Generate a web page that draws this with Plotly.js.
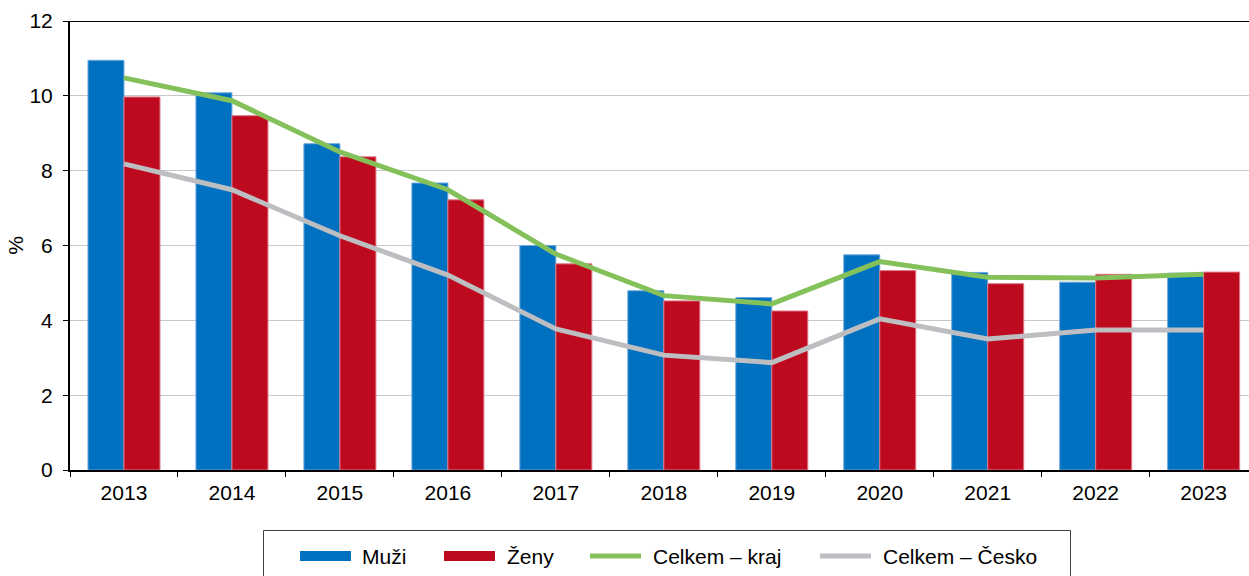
<!DOCTYPE html>
<html>
<head>
<meta charset="utf-8">
<script src="https://cdn.plot.ly/plotly-3.0.1.min.js"></script>
<style>html,body{margin:0;padding:0;background:#fff;}#chart{width:1249px;height:576px;}</style>
</head>
<body>
<div id="chart"></div>
<script>
var years = ['2013','2014','2015','2016','2017','2018','2019','2020','2021','2022','2023'];
var muzi  = [10.95, 10.08, 8.72, 7.67, 6.00, 4.79, 4.61, 5.75, 5.28, 5.02, 5.26];
var zeny  = [9.97, 9.47, 8.37, 7.22, 5.51, 4.52, 4.25, 5.33, 4.98, 5.23, 5.29];
var kraj  = [10.48, 9.87, 8.50, 7.49, 5.77, 4.66, 4.44, 5.57, 5.15, 5.13, 5.23];
var cesko = [8.18, 7.49, 6.26, 5.21, 3.77, 3.07, 2.87, 4.04, 3.50, 3.74, 3.74];
var names = ['Muži', 'Ženy', 'Celkem – kraj', 'Celkem – Česko'];

var cBlue = '#0070C0', cRed = '#BE0A1E', cGreen = '#84C15B', cGray = '#BCBEC2';
var font = 'Liberation Sans, Arial, sans-serif';
var FS = 21;

// plot area geometry (pixels) used to place the hand-made legend
var W = 1249, H = 576, ML = 70, MR = 0, MT = 21, MB = 106;
var PW = W - ML - MR, PH = H - MT - MB;
function xp(px){ return (px - ML) / PW; }
function yp(py){ return (H - MB - py) / PH; }

var traces = [
  {type:'bar', x:years, y:muzi, name:names[0], showlegend:false,
   marker:{color:cBlue, line:{color:'#6FA8DC', width:1}}},
  {type:'bar', x:years, y:zeny, name:names[1], showlegend:false,
   marker:{color:cRed, line:{color:'#E07A8A', width:1}}},
  {type:'scatter', mode:'lines', x:years, y:kraj, name:names[2], showlegend:false,
   line:{color:cGreen, width:5}},
  {type:'scatter', mode:'lines', x:years, y:cesko, name:names[3], showlegend:false,
   line:{color:cGray, width:5}}
];

// legend (drawn by hand to match spacing)
var legY = 556;
var shapes = [
  {type:'line', xref:'paper', yref:'y', x0:0, x1:1, y0:12, y1:12, line:{color:'#000', width:2}},
  {type:'rect', xref:'paper', yref:'paper', x0:xp(263.5), x1:xp(1070.5), y0:yp(530.5), y1:yp(610),
   line:{color:'#404040', width:1}, fillcolor:'rgba(0,0,0,0)'},
  {type:'rect', xref:'paper', yref:'paper', x0:xp(300), x1:xp(351), y0:yp(legY-5), y1:yp(legY+5),
   line:{width:0}, fillcolor:cBlue},
  {type:'rect', xref:'paper', yref:'paper', x0:xp(444), x1:xp(495), y0:yp(legY-5), y1:yp(legY+5),
   line:{width:0}, fillcolor:cRed},
  {type:'line', xref:'paper', yref:'paper', x0:xp(590), x1:xp(641), y0:yp(legY), y1:yp(legY),
   line:{color:cGreen, width:5}},
  {type:'line', xref:'paper', yref:'paper', x0:xp(820), x1:xp(871), y0:yp(legY), y1:yp(legY),
   line:{color:cGray, width:5}}
];
var textX = [361, 506, 652, 882];
var annotations = names.map(function(n, i){
  return {xref:'paper', yref:'paper', x:xp(textX[i]), y:yp(legY), xanchor:'left', yanchor:'middle',
          text:n, showarrow:false, borderpad:0, font:{size:FS, color:'#000'}};
});

var layout = {
  width:W, height:H,
  margin:{l:ML, r:MR, t:MT, b:MB},
  paper_bgcolor:'#fff', plot_bgcolor:'#fff',
  font:{family:font, size:FS, color:'#000'},
  showlegend:false,
  barmode:'group', bargap:0.333, bargroupgap:0,
  xaxis:{type:'category', range:[-0.5, 10.42], tickson:'boundaries', ticks:'outside', ticklen:5,
         tickwidth:1, tickcolor:'#000', showline:true, linecolor:'#000', linewidth:2,
         showgrid:false, zeroline:false, tickfont:{size:FS}, ticklabelstandoff:3},
  yaxis:{range:[0,12], dtick:2, ticks:'outside', ticklen:5, tickwidth:1, tickcolor:'#000',
         showline:true, linecolor:'#000', linewidth:2, showgrid:true, gridcolor:'#C8C8C8', gridwidth:1,
         zeroline:false, tickfont:{size:FS}, ticklabelstandoff:6,
         title:{text:'%', font:{size:FS}, standoff:0}},
  shapes:shapes,
  annotations:annotations
};

Plotly.newPlot('chart', traces, layout, {staticPlot:true, displayModeBar:false});
</script>
</body>
</html>
